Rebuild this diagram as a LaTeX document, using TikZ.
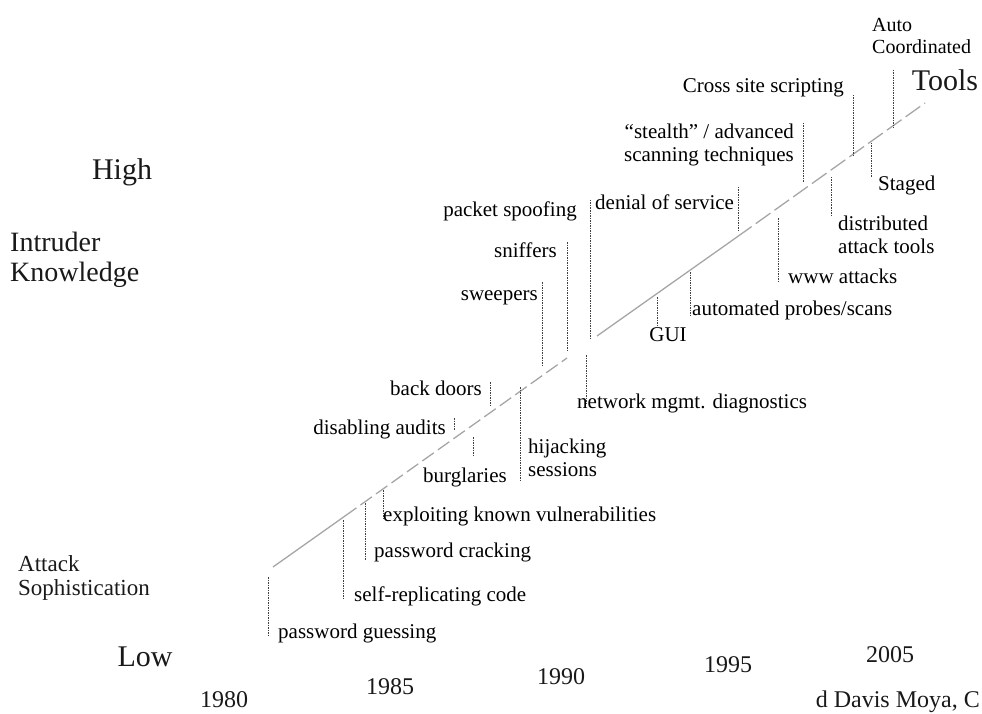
\documentclass[tikz,border=0pt]{standalone}
\usepackage{fontspec}
\setmainfont{Liberation Serif}

\begin{document}
\begin{tikzpicture}[x=1pt,y=-1pt,
  lbl/.style={font=\fontsize{21}{23}\selectfont,inner sep=1pt,text=black,text height=14pt,text depth=4pt},
  lbl2/.style={font=\fontsize{21}{23}\selectfont,inner sep=1pt,text=black},
  axis/.style={font=\fontsize{30}{32}\selectfont,inner sep=0pt,text=black!90},
  yr/.style={font=\fontsize{24}{26}\selectfont,inner sep=0pt,text=black!90},
  trend/.style={gray!70,line width=1.3pt},
  lead/.style={black!75,line width=1pt,dash pattern=on 1.5pt off 1pt}]
  \useasboundingbox (0,0) rectangle (982,714);
  % trend line
  \coordinate (t0) at (273,567); \coordinate (t1) at (345,516);
  \coordinate (t2) at (567,358); \coordinate (t3) at (597,336);
  \coordinate (t4) at (737,237); \coordinate (t5) at (925,103);
  \draw[trend] (t0)--(t1);
  \draw[trend,dash pattern=on 14pt off 5pt] (t1)--(t2);
  \draw[trend] (t3)--(t4);
  \draw[trend,dash pattern=on 18pt off 5pt] (t4)--(t5);
  % leaders
  \foreach \n/\x/\ya/\yb in {pg/268/577/637, src/343/520/598, pc/365/503/560, ekv/383/490/518,
      bur/473/437/457, da/454/418/430, bd/490/382/405, hs/520/387/482, nmd/586/355/405,
      sw/542/282/367, sn/567/242/352, ps/590/200/340, dos/738/187/232, gui/657/297/327,
      aps/690/272/316, www/778/218/282, st/803/123/183, dat/831/177/217, css/853/95/157,
      stg/871/143/177, acd/893/70/128}
    {\coordinate (\n-a) at (\x,\ya); \coordinate (\n-b) at (\x,\yb); \draw[lead] (\n-a)--(\n-b);}
  % attacks
  \node[lbl,anchor=west] (pgL) at (277,633) {password guessing};
  \node[lbl,anchor=west] (srcL) at (353,596) {self-replicating code};
  \node[lbl,anchor=west] (pcL) at (373,552) {password cracking};
  \node[lbl,anchor=west] (ekvL) at (382,516) {exploiting known vulnerabilities};
  \node[lbl] (burL) at (465,477) {burglaries};
  \node[lbl,anchor=east] (daL) at (447,429) {disabling audits};
  \node[lbl,anchor=east] (bdL) at (483,390) {back doors};
  \node[lbl2,anchor=west,align=left] (hsL) at (527,458) {hijacking\\sessions};
  \node[lbl,anchor=west] (nmdL) at (576,403) {network mgmt. diagnostics};
  \node[lbl,anchor=east] (swL) at (539,295) {sweepers};
  \node[lbl,anchor=east] (snL) at (558,252) {sniffers};
  \node[lbl,anchor=east] (psL) at (578,211) {packet spoofing};
  \node[lbl,anchor=west] (dosL) at (594,204) {denial of service};
  \node[lbl] (guiL) at (668,336) {GUI};
  \node[lbl,anchor=west] (apsL) at (691,310) {automated probes/scans};
  \node[lbl,anchor=west] (wwwL) at (787,278) {www attacks};
  \node[lbl2,anchor=east,align=right] (stL) at (795,145) {“stealth” / advanced\\scanning techniques};
  \node[lbl2,anchor=west,align=left] (datL) at (837,235) {distributed\\attack tools};
  \node[lbl,anchor=east] (cssL) at (845,88) {Cross site scripting};
  \node[lbl,anchor=west] (stgL) at (877,185) {Staged};
  \node[lbl2,anchor=west,align=left,font=\fontsize{20}{22}\selectfont] (acdL) at (871,36) {Auto\\Coordinated};
  \node[axis] (tools) at (945,80) {Tools};
  % axes
  \node[axis] (high) at (122,172) {High};
  \node[axis,anchor=west,align=left,font=\fontsize{28}{30}\selectfont] (ik) at (10,260) {Intruder\\Knowledge};
  \node[axis,anchor=west,align=left,font=\fontsize{23}{24}\selectfont] (as) at (18,578) {Attack\\Sophistication};
  \node[axis] (low) at (145,657) {Low};
  \foreach \t/\x/\y in {1980/224/700, 1985/390/687, 1990/561/677, 1995/728/665, 2005/890/655}
    \node[yr] (y\t) at (\x,\y) {\t};
  % credit
  \node[axis,anchor=base east,font=\fontsize{24}{26}\selectfont] (cred) at (980,707) {d Davis Moya, C};
\end{tikzpicture}
\end{document}
